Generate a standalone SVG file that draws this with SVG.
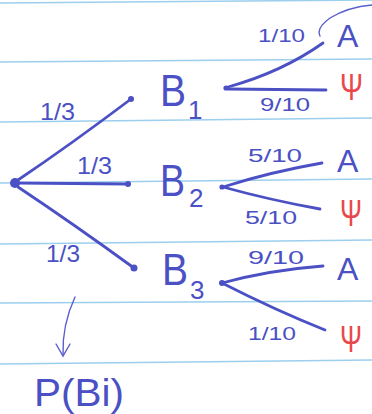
<svg xmlns="http://www.w3.org/2000/svg" width="372" height="414" viewBox="0 0 372 414">
<style>
.rule{stroke:#9ccfee;stroke-width:1.6;fill:none}
.pen{stroke:#4b50c4;stroke-width:2.8;fill:none;stroke-linecap:round}
.thin{stroke:#5a5fcc;stroke-width:1.4;fill:none;stroke-linecap:round}
.dot{fill:#4b50c4}
text{font-family:"Liberation Sans",Arial,sans-serif;fill:#4b50c4}
.frac{font-size:19px}
.big{font-size:44px}
.sub{font-size:26px}
.lbl{font-size:32px}
.psi{font-size:36px;fill:#e8484c}
.half{font-size:24px}
</style>
<rect width="372" height="414" fill="#ffffff"/>
<g id="paper">
<path class="rule" d="M0,3 L372,0"/>
<path class="rule" d="M0,62 L372,59"/>
<path class="rule" d="M0,122 L372,118"/>
<path class="rule" d="M0,183 L372,179"/>
<path class="rule" d="M0,244 L372,240"/>
<path class="rule" d="M0,303 L372,301"/>
<path class="rule" d="M0,364 L372,360"/>
</g>
<g id="connectors">
<path class="pen" d="M18,180 Q70,145 131,99"/>
<path class="pen" d="M18,183 L128,184"/>
<path class="pen" d="M18,187 Q75,225 134,268"/>
<path class="pen" d="M228,87 Q282,72 323,43"/>
<path class="pen" d="M228,89 L326,90"/>
<path class="pen" d="M223,187 Q270,172 322,163"/>
<path class="pen" d="M223,187 Q270,200 320,209"/>
<path class="pen" d="M222,283 Q270,270 323,266"/>
<path class="pen" d="M222,283 Q275,310 325,330"/>
<path class="thin" d="M320,36 Q316,28 330,18 Q348,7 372,5"/>
<path class="thin" d="M75,297 Q62,325 63,355"/>
<path class="thin" d="M56,344 L63,356 L70,344"/>
</g>
<g id="root">
<circle class="dot" cx="15" cy="183" r="5"/>
</g>
<g id="B1">
<circle class="dot" cx="131" cy="99" r="3"/>
<text class="big" x="160" y="106" textLength="26" lengthAdjust="spacingAndGlyphs">B</text>
<text class="sub" x="188" y="119">1</text>
<circle class="dot" cx="226" cy="88" r="2.6"/>
</g>
<g id="B2">
<circle class="dot" cx="128" cy="184" r="3"/>
<text class="big" x="160" y="196" textLength="25" lengthAdjust="spacingAndGlyphs">B</text>
<text class="sub" x="189" y="207">2</text>
<circle class="dot" cx="222" cy="187" r="2.6"/>
</g>
<g id="B3">
<circle class="dot" cx="134" cy="268" r="3.5"/>
<text class="big" x="162" y="285" textLength="26" lengthAdjust="spacingAndGlyphs">B</text>
<text class="sub" x="190" y="299">3</text>
<circle class="dot" cx="222" cy="283" r="3"/>
</g>
<g id="labels-root">
<text class="half" x="40" y="120" textLength="35" lengthAdjust="spacingAndGlyphs">1/3</text>
<text class="half" x="77" y="174" textLength="35" lengthAdjust="spacingAndGlyphs">1/3</text>
<text class="half" x="46" y="262" textLength="34" lengthAdjust="spacingAndGlyphs">1/3</text>
</g>
<g id="A1"><text class="lbl" x="337" y="47">A</text></g>
<g id="Psi1"><text class="psi" x="340" y="100" textLength="23" lengthAdjust="spacingAndGlyphs">Ψ</text></g>
<g id="A2"><text class="lbl" x="337" y="172">A</text></g>
<g id="Psi2"><text class="psi" x="340" y="226" textLength="22" lengthAdjust="spacingAndGlyphs">Ψ</text></g>
<g id="A3"><text class="lbl" x="337" y="280">A</text></g>
<g id="Psi3"><text class="psi" x="340" y="352" textLength="22" lengthAdjust="spacingAndGlyphs">Ψ</text></g>
<g id="labels-branches">
<text class="frac" x="258" y="42" textLength="47" lengthAdjust="spacingAndGlyphs">1/10</text>
<text class="frac" x="260" y="111" textLength="50" lengthAdjust="spacingAndGlyphs">9/10</text>
<text class="frac" x="248" y="162" textLength="54" lengthAdjust="spacingAndGlyphs">5/10</text>
<text class="frac" x="245" y="224" textLength="52" lengthAdjust="spacingAndGlyphs">5/10</text>
<text class="frac" x="248" y="264" textLength="56" lengthAdjust="spacingAndGlyphs">9/10</text>
<text class="frac" x="248" y="340" textLength="48" lengthAdjust="spacingAndGlyphs">1/10</text>
</g>
<g id="PBi">
<text x="34" y="406" style="font-size:38px" textLength="90" lengthAdjust="spacingAndGlyphs">P(Bi)</text>
</g>
</svg>
